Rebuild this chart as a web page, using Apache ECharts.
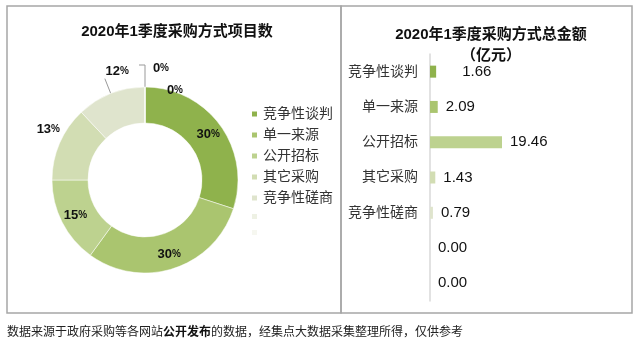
<!DOCTYPE html>
<html>
<head>
<meta charset="utf-8">
<script src="https://cdn.jsdelivr.net/npm/echarts@6/dist/echarts.min.js"></script>
<style>
html,body{margin:0;padding:0;background:#fff;}
#c{width:640px;height:348px;}
</style>
</head>
<body>
<div id="c"></div>
<script>
const pieTitle = '2020年1季度采购方式项目数';
const barTitle = '2020年1季度采购方式总金额\n（亿元）';
const pieNames = ['竞争性谈判', '单一来源', '公开招标', '其它采购', '竞争性磋商', ' ', '  '];
const pieValues = [30, 30, 15, 13, 12, 0, 0];
const barCats = ['竞争性谈判', '单一来源', '公开招标', '其它采购', '竞争性磋商', '', ''];
const barValues = [1.66, 2.09, 19.46, 1.43, 0.79, 0.00, 0.00];
const footNote = ['数据来源于政府采购等各网站', '公开发布', '的数据，经集点大数据采集整理所得，仅供参考'];

const palette = ['#8fb24c', '#aac56f', '#bdd28f', '#d2ddb3', '#dfe4cd', '#eef1e4', '#f6f7f0'];
const FF = '"Liberation Sans", Arial, "Noto Sans CJK SC", sans-serif';

const chart = echarts.init(document.getElementById('c'), null, {renderer: 'canvas'});

const pieLabelCfg = [
  {position: 'inside'},
  {position: 'inside'},
  {position: 'inside'},
  {position: 'outside', labelLine: false, len: 4, len2: 0},
  {position: 'outside', labelLine: true, len: 16, len2: 0},
  {position: 'outside', labelLine: true, len: 22, len2: 6},
  {position: 'outside', labelLine: false, len: 4, len2: 4}
];
// label nudges (px) for the outside labels, to follow the reference placement
const labelNudge = {3: [9, -12], 4: [29, -7], 5: [35, 3], 6: [47, 7]};

const pieData = pieNames.map((n, i) => {
  const c = pieLabelCfg[i];
  const d = {name: n, value: pieValues[i], itemStyle: {color: palette[i]},
    label: {position: c.position}};
  if (c.position === 'outside') {
    d.labelLine = {show: c.labelLine, length: c.len, length2: c.len2, lineStyle: {color: '#999', width: 1}};
  }
  return d;
});

const barData = barValues.map((v, i) => ({
  value: v,
  itemStyle: {color: palette[i]},
  label: {distance: i === 0 ? 26 : 8}
}));

chart.setOption({
  backgroundColor: '#fff',
  animation: false,
  textStyle: {fontFamily: FF},
  title: [
    {text: pieTitle, left: 172, top: 19, textAlign: 'center',
      textStyle: {fontSize: 15, fontWeight: 'bold', color: '#111', fontFamily: FF}},
    {text: barTitle, left: 486, top: 19, textAlign: 'center',
      textStyle: {fontSize: 15, fontWeight: 'bold', color: '#111', lineHeight: 21, fontFamily: FF}}
  ],
  legend: {
    orient: 'vertical', left: 245, top: 102, itemWidth: 7, itemHeight: 7, itemGap: 7,
    icon: 'rect', selectedMode: false,
    data: pieNames,
    formatter: n => n.trim(),
    textStyle: {fontSize: 14, color: '#333', fontFamily: FF}
  },
  grid: {left: 430, width: 148, top: 54, height: 247},
  xAxis: {type: 'value', min: 0, max: 40, show: false},
  yAxis: {type: 'category', data: barCats, inverse: true,
    axisLine: {show: true, lineStyle: {color: '#d9d9d9', width: 1.5}},
    axisTick: {show: false},
    axisLabel: {fontSize: 14, color: '#333', margin: 12, fontFamily: FF}},
  series: [
    {
      type: 'pie', center: [145, 180], radius: [57, 93], startAngle: 90, clockwise: true,
      percentPrecision: 0, avoidLabelOverlap: false, stillShowZeroSum: true,
      itemStyle: {borderColor: '#fff', borderWidth: 0.5},
      label: {
        formatter: p => '{n|' + Math.round(p.percent) + '}{p|%}',
        rich: {n: {fontSize: 13, fontWeight: 'bold', color: '#111', fontFamily: FF},
               p: {fontSize: 10, fontWeight: 'bold', color: '#111', fontFamily: FF}}
      },
      labelLayout: function (params) {
        const nd = labelNudge[params.dataIndex];
        return nd ? {dx: nd[0], dy: nd[1]} : {};
      },
      emphasis: {disabled: true},
      data: pieData
    },
    {
      type: 'bar', barWidth: 12, data: barData,
      label: {show: true, position: 'right', formatter: p => p.value.toFixed(2),
        fontSize: 15, color: '#111', fontFamily: FF},
      emphasis: {disabled: true}
    }
  ],
  graphic: [
    {type: 'rect', shape: {x: 7, y: 6, width: 334, height: 307}, style: {fill: 'none', stroke: '#a6a6a6', lineWidth: 1.5}, silent: true},
    {type: 'rect', shape: {x: 341, y: 6, width: 291, height: 307}, style: {fill: 'none', stroke: '#a6a6a6', lineWidth: 1.5}, silent: true},
    {type: 'text', left: 7, top: 327, style: {
      text: '{r|' + footNote[0] + '}{b|' + footNote[1] + '}{r|' + footNote[2] + '}',
      rich: {r: {fontSize: 12, fill: '#222', fontFamily: FF}, b: {fontSize: 12, fill: '#111', fontWeight: 'bold', fontFamily: FF}}
    }}
  ]
});
</script>
</body>
</html>
